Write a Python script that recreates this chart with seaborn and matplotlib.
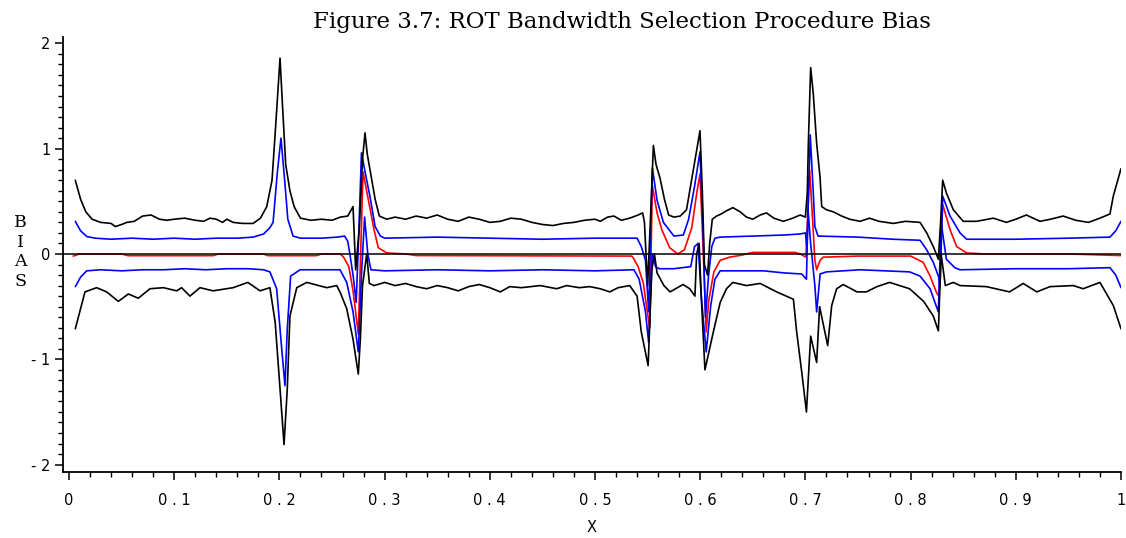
import matplotlib
matplotlib.use("Agg")
import matplotlib.pyplot as plt
import seaborn as sns
import pandas as pd
import numpy as np
from matplotlib.ticker import MultipleLocator, FixedLocator

sns.set_theme(style="ticks")

# ---------------- data ----------------
upper_black_x = [0.006, 0.011, 0.016, 0.022, 0.030, 0.040, 0.044, 0.050, 0.055, 0.062, 0.070, 0.078, 0.086, 0.093,
                 0.100, 0.110, 0.120, 0.128, 0.134, 0.140, 0.146, 0.150, 0.156, 0.165, 0.175, 0.182, 0.188, 0.193,
                 0.197, 0.2006, 0.203, 0.206, 0.210, 0.214, 0.220, 0.230, 0.240, 0.250, 0.258, 0.265, 0.270, 0.2725,
                 0.276, 0.279, 0.2814, 0.2835, 0.287, 0.291, 0.295, 0.302, 0.31, 0.32, 0.33, 0.34, 0.35, 0.36, 0.37,
                 0.38, 0.39, 0.40, 0.41, 0.42, 0.43, 0.44, 0.45, 0.46, 0.47, 0.48, 0.49, 0.50, 0.505, 0.512, 0.518,
                 0.525, 0.533, 0.541, 0.5453, 0.547, 0.550, 0.553, 0.5555, 0.558, 0.5618, 0.566, 0.570, 0.575, 0.581,
                 0.587, 0.5935, 0.5998, 0.602, 0.604, 0.607, 0.609, 0.6115, 0.6156, 0.620, 0.625, 0.631, 0.638, 0.644,
                 0.650, 0.657, 0.663, 0.670, 0.679, 0.688, 0.695, 0.700, 0.7018, 0.7028, 0.705, 0.7075, 0.7107,
                 0.7139, 0.7155, 0.720, 0.7265, 0.7345, 0.742, 0.752, 0.761, 0.770, 0.7836, 0.795, 0.809, 0.8153,
                 0.8216, 0.8264, 0.8285, 0.8305, 0.834, 0.8406, 0.850, 0.8628, 0.8786, 0.891, 0.900, 0.910, 0.923,
                 0.933, 0.945, 0.957, 0.969, 0.980, 0.9895, 0.9927, 1.0]
upper_black_y = [0.70, 0.52, 0.40, 0.33, 0.30, 0.29, 0.26, 0.28, 0.30, 0.31, 0.36, 0.37, 0.33, 0.32,
                 0.33, 0.34, 0.32, 0.31, 0.34, 0.33, 0.30, 0.33, 0.30, 0.29, 0.29, 0.34, 0.45, 0.70,
                 1.30, 1.86, 1.40, 0.85, 0.60, 0.45, 0.34, 0.32, 0.33, 0.32, 0.35, 0.36, 0.45, -0.15,
                 0.25, 0.90, 1.15, 0.95, 0.75, 0.52, 0.36, 0.33, 0.35, 0.33, 0.36, 0.34, 0.37, 0.33, 0.31,
                 0.35, 0.33, 0.30, 0.31, 0.34, 0.33, 0.30, 0.28, 0.27, 0.29, 0.30, 0.32, 0.33, 0.31, 0.35, 0.36,
                 0.32, 0.34, 0.37, 0.39, 0.30, -0.30, 0.40, 1.03, 0.85, 0.72, 0.52, 0.37, 0.35, 0.36,
                 0.42, 0.80, 1.17, 0.60, -0.10, -0.20, 0.10, 0.33, 0.36, 0.38, 0.41, 0.44, 0.40, 0.35,
                 0.33, 0.37, 0.39, 0.34, 0.31, 0.34, 0.37, 0.35, 0.58, 1.05, 1.77, 1.52, 1.05,
                 0.73, 0.45, 0.42, 0.40, 0.36, 0.33, 0.31, 0.34, 0.31, 0.29, 0.31, 0.30, 0.20,
                 0.07, -0.05, 0.30, 0.70, 0.58, 0.42, 0.31, 0.31, 0.34, 0.30, 0.33, 0.37, 0.31,
                 0.33, 0.36, 0.32, 0.30, 0.34, 0.38, 0.55, 0.81]

lower_black_x = [0.006, 0.0152, 0.0263, 0.0358, 0.0469, 0.0564, 0.0659, 0.077, 0.0897, 0.1024, 0.107, 0.115,
                 0.1245, 0.137, 0.156, 0.170, 0.1816, 0.191, 0.196, 0.2006, 0.2044, 0.2075, 0.210, 0.2165, 0.226,
                 0.245, 0.2545, 0.258, 0.264, 0.270, 0.275, 0.277, 0.279, 0.283, 0.2855, 0.290, 0.30, 0.31, 0.32,
                 0.33, 0.34, 0.35, 0.36, 0.37, 0.38, 0.39, 0.40, 0.41, 0.419, 0.430, 0.448, 0.4636, 0.473, 0.485,
                 0.495, 0.505, 0.514, 0.522, 0.533, 0.540, 0.544, 0.5505, 0.554, 0.5565, 0.559, 0.5655, 0.5713,
                 0.5837, 0.590, 0.595, 0.5966, 0.599, 0.601, 0.6045, 0.6125, 0.619, 0.625, 0.631, 0.644, 0.657,
                 0.6727, 0.6886, 0.6917, 0.6965, 0.701, 0.705, 0.7107, 0.7135, 0.7212, 0.725, 0.7297, 0.736, 0.749,
                 0.758, 0.768, 0.780, 0.799, 0.8124, 0.8216, 0.8264, 0.829, 0.833, 0.8406, 0.847, 0.872, 0.894,
                 0.907, 0.920, 0.9325, 0.9547, 0.964, 0.980, 0.9927, 1.0]
lower_black_y = [-0.71, -0.36, -0.32, -0.36, -0.45, -0.38, -0.42, -0.33, -0.32, -0.35, -0.32, -0.40,
                 -0.32, -0.35, -0.32, -0.27, -0.35, -0.32, -0.65, -1.28, -1.81, -1.28, -0.59, -0.32, -0.27,
                 -0.32, -0.30, -0.37, -0.52, -0.81, -1.14, -0.80, -0.30, 0.00, -0.28, -0.30, -0.27, -0.30, -0.28,
                 -0.31, -0.33, -0.30, -0.32, -0.35, -0.31, -0.29, -0.32, -0.36, -0.31, -0.32, -0.30, -0.33, -0.30, -0.32,
                 -0.31, -0.33, -0.36, -0.32, -0.30, -0.40, -0.74, -1.06, -0.15, 0.00, -0.18, -0.30, -0.36,
                 -0.29, -0.33, -0.40, 0.00, 0.10, -0.40, -1.10, -0.74, -0.46, -0.33, -0.27, -0.30, -0.28,
                 -0.36, -0.43, -0.74, -1.12, -1.50, -0.78, -1.03, -0.50, -0.87, -0.49, -0.33, -0.29, -0.36,
                 -0.36, -0.31, -0.27, -0.33, -0.45, -0.59, -0.73, 0.00, -0.30, -0.27, -0.30, -0.31, -0.36,
                 -0.28, -0.36, -0.31, -0.30, -0.33, -0.27, -0.49, -0.71]

upper_blue_x = [0.006, 0.011, 0.017, 0.025, 0.04, 0.06, 0.08, 0.10, 0.12, 0.14, 0.16, 0.175, 0.185, 0.191, 0.194,
                0.198, 0.2015, 0.205, 0.208, 0.213, 0.22, 0.24, 0.255, 0.262, 0.265, 0.267, 0.270, 0.273, 0.2755,
                0.278, 0.282, 0.286, 0.291, 0.296, 0.30, 0.35, 0.40, 0.45, 0.50, 0.54, 0.544, 0.548, 0.551, 0.5545,
                0.559, 0.565, 0.575, 0.584, 0.589, 0.5946, 0.5998, 0.6025, 0.605, 0.608, 0.611, 0.614, 0.619, 0.65,
                0.68, 0.695, 0.700, 0.7015, 0.7046, 0.7075, 0.709, 0.712, 0.75, 0.783, 0.809, 0.8153, 0.8216,
                0.8264, 0.828, 0.8305, 0.8375, 0.847, 0.8533, 0.90, 0.95, 0.9895, 0.995, 1.0]
upper_blue_y = [0.31, 0.22, 0.165, 0.15, 0.14, 0.15, 0.14, 0.15, 0.14, 0.15, 0.15, 0.16, 0.19, 0.25, 0.30,
                0.77, 1.10, 0.70, 0.33, 0.17, 0.15, 0.15, 0.16, 0.17, 0.12, 0.00, -0.20, -0.46, 0.20,
                0.96, 0.75, 0.55, 0.26, 0.17, 0.15, 0.16, 0.15, 0.14, 0.15, 0.15, 0.07, -0.06, -0.55, 0.82,
                0.51, 0.30, 0.17, 0.18, 0.33, 0.64, 0.97, 0.30, -0.60, -0.20, 0.07, 0.15, 0.16, 0.17,
                0.18, 0.19, 0.20, 0.05, 1.13, 0.58, 0.26, 0.17, 0.16, 0.14, 0.13, 0.04, -0.08,
                -0.21, -0.30, 0.55, 0.36, 0.20, 0.14, 0.14, 0.15, 0.16, 0.22, 0.31]

lower_blue_x = [0.006, 0.011, 0.0168, 0.03, 0.05, 0.07, 0.09, 0.11, 0.13, 0.15, 0.17, 0.185, 0.191, 0.1974,
                0.2022, 0.2053, 0.2075, 0.2107, 0.2196, 0.2576, 0.264, 0.270, 0.275, 0.278, 0.281, 0.284, 0.287,
                0.30, 0.35, 0.40, 0.45, 0.50, 0.537, 0.542, 0.548, 0.551, 0.5545, 0.5576, 0.561, 0.575, 0.591,
                0.5946, 0.598, 0.601, 0.6057, 0.61, 0.614, 0.619, 0.628, 0.66, 0.68, 0.6965, 0.701, 0.7025, 0.705,
                0.709, 0.7107, 0.714, 0.72, 0.752, 0.799, 0.809, 0.8185, 0.8264, 0.829, 0.834, 0.842, 0.847, 0.90,
                0.95, 0.9895, 0.995, 1.0]
lower_blue_y = [-0.31, -0.22, -0.16, -0.15, -0.16, -0.15, -0.15, -0.14, -0.15, -0.14, -0.14, -0.15, -0.17, -0.33,
                -0.90, -1.25, -0.71, -0.21, -0.15, -0.15, -0.27, -0.55, -0.93, -0.20, 0.35, 0.00, -0.15,
                -0.16, -0.15, -0.16, -0.15, -0.16, -0.15, -0.24, -0.55, -0.84, 0.00, -0.12, -0.14, -0.14, -0.12,
                0.07, 0.10, -0.40, -0.93, -0.49, -0.24, -0.16, -0.16, -0.16, -0.18, -0.19, -0.24, 0.42, 0.10,
                -0.30, -0.55, -0.19, -0.17, -0.15, -0.17, -0.21, -0.33, -0.55, 0.30, -0.05, -0.13, -0.15, -0.14,
                -0.14, -0.13, -0.20, -0.32]

red_x = [0.004, 0.010, 0.050, 0.056, 0.137, 0.142, 0.185, 0.189, 0.235, 0.24, 0.258, 0.261, 0.266, 0.270,
         0.275, 0.2795, 0.285, 0.29, 0.294, 0.302, 0.32, 0.33, 0.535, 0.5365, 0.541, 0.546, 0.549, 0.552,
         0.5545, 0.559, 0.5635, 0.571, 0.5786, 0.585, 0.592, 0.5966, 0.5998, 0.603, 0.6057, 0.608, 0.613,
         0.619, 0.628, 0.64, 0.65, 0.69, 0.695, 0.7005, 0.704, 0.707, 0.709, 0.7107, 0.714, 0.717, 0.75,
         0.80, 0.812, 0.8185, 0.8248, 0.827, 0.8305, 0.8375, 0.8438, 0.8533, 0.87, 0.95, 1.0]
red_y = [-0.02, 0.0, 0.0, -0.016, -0.016, 0.0, 0.0, -0.016, -0.016, 0.0, 0.0, -0.03, -0.12, -0.35,
         -0.76, 0.78, 0.49, 0.23, 0.06, 0.01, 0.0, -0.015, -0.02, -0.04, -0.12, -0.28, -0.50, -0.70,
         0.65, 0.39, 0.23, 0.06, 0.0, 0.04, 0.25, 0.57, 0.76, 0.0, -0.74, -0.45, -0.17,
         -0.06, -0.03, -0.01, 0.015, 0.015, 0.0, -0.03, 0.80, 0.30, -0.06, -0.15, -0.06, -0.03, -0.02,
         -0.02, -0.08, -0.21, -0.37, -0.40, 0.47, 0.23, 0.07, 0.01, 0.0, 0.0, -0.015]

x_ticks = [0.0, 0.1, 0.2, 0.3, 0.4, 0.5, 0.6, 0.7, 0.8, 0.9, 1.0]
x_tick_labels = ["0", "0 . 1", "0 . 2", "0 . 3", "0 . 4", "0 . 5", "0 . 6", "0 . 7", "0 . 8", "0 . 9", "1"]
y_ticks = [-2, -1, 0, 1, 2]
y_tick_labels = ["- 2", "- 1", "0", "1", "2"]

title = "Figure 3.7: ROT Bandwidth Selection Procedure Bias"

# ---------------- figure ----------------
fig = plt.figure(figsize=(11.26, 5.38), dpi=100)
ax = fig.add_axes([63 / 1126, 1 - 472 / 538, (1121 - 63) / 1126, (472 - 37) / 538])

def draw(xs, ys, color, lw):
    df = pd.DataFrame({"x": xs, "y": ys})
    sns.lineplot(data=df, x="x", y="y", ax=ax, color=color, linewidth=lw,
                 sort=False, estimator=None, legend=False)

draw(red_x, red_y, "#ff0000", 1.2)
draw(upper_blue_x, upper_blue_y, "#0000ff", 1.2)
draw(lower_blue_x, lower_blue_y, "#0000ff", 1.2)
draw(upper_black_x, upper_black_y, "#000000", 1.2)
draw(lower_black_x, lower_black_y, "#000000", 1.2)
ax.axhline(0, color="black", linewidth=1.1, zorder=5)

ax.set_xlim(-0.0057, 1.0)
ax.set_ylim(-2.07, 2.06)
sns.despine(ax=ax)
for s in ["left", "bottom"]:
    ax.spines[s].set_linewidth(1.3)
    ax.spines[s].set_color("black")

tick_font = ["DejaVu Sans"]
ax.xaxis.set_major_locator(FixedLocator(x_ticks))
ax.set_xticklabels(x_tick_labels, fontfamily=tick_font, fontsize=10.5, color="black")
ax.xaxis.set_minor_locator(MultipleLocator(0.02))
ax.yaxis.set_major_locator(FixedLocator(y_ticks))
ax.set_yticklabels(y_tick_labels, fontfamily=tick_font, fontsize=10.5, color="black")
ax.yaxis.set_minor_locator(MultipleLocator(0.1))
ax.tick_params(axis="both", which="major", direction="out", length=6, width=1.1, color="black")
ax.tick_params(axis="both", which="minor", direction="out", length=3.5, width=1.0, color="black")
ax.tick_params(axis="x", which="major", pad=9)
ax.tick_params(axis="y", which="major", pad=3)

ax.set_xlabel("X", fontfamily=tick_font, fontsize=10.5, labelpad=9, color="black")
ax.set_ylabel("")

fig.text(20 / 1126, 1 - 252 / 538, "B\nI\nA\nS", ha="center", va="center",
         fontfamily=["DejaVu Serif"], fontsize=12.5, linespacing=1.2, color="black")
fig.text(622 / 1126, 1 - 22 / 538, title, ha="center", va="center",
         fontfamily=["DejaVu Serif"], fontsize=16.5, color="black")

fig.savefig("out.png", dpi=100)
